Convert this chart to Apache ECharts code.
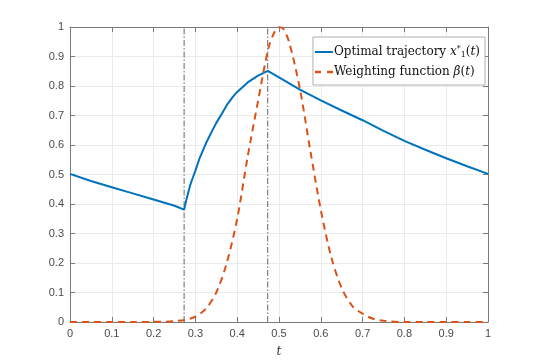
<!DOCTYPE html>
<html>
<head>
<meta charset="utf-8">
<script src="https://cdn.jsdelivr.net/npm/echarts@6/dist/echarts.min.js"></script>
<style>
  html, body { margin: 0; padding: 0; background: #fff; }
  #chart { width: 540px; height: 363px; }
</style>
</head>
<body>
<div id="chart"></div>
<script>
// trajectory x1*(t)
const tTraj = [0, 0.05, 0.1, 0.15, 0.2, 0.25, 0.273, 0.278, 0.283, 0.288, 0.295, 0.3, 0.31, 0.325, 0.34, 0.35, 0.365, 0.375, 0.39, 0.4, 0.425, 0.45, 0.473, 0.5, 0.55, 0.6, 0.65, 0.7, 0.75, 0.8, 0.85, 0.9, 0.95, 1];
const vTraj = [0.502, 0.478, 0.457, 0.436, 0.415, 0.394, 0.381, 0.412, 0.44, 0.466, 0.494, 0.513, 0.555, 0.605, 0.648, 0.675, 0.71, 0.735, 0.764, 0.78, 0.812, 0.835, 0.851, 0.829, 0.788, 0.751, 0.717, 0.684, 0.648, 0.614, 0.584, 0.555, 0.528, 0.502];

// weighting function beta(t)
const tBeta = [0, 0.05, 0.1, 0.15, 0.2, 0.225, 0.25, 0.275, 0.3, 0.325, 0.35, 0.375, 0.4, 0.425, 0.45, 0.475, 0.49, 0.5, 0.51, 0.525, 0.55, 0.575, 0.6, 0.625, 0.65, 0.675, 0.7, 0.725, 0.75, 0.8, 0.85, 0.9, 0.95, 1];
const vBeta = [0, 0, 0, 0, 0.0005, 0.001, 0.003, 0.007, 0.018, 0.045, 0.1, 0.2, 0.35, 0.56, 0.75, 0.93, 0.985, 0.999, 0.995, 0.945, 0.79, 0.58, 0.38, 0.22, 0.115, 0.055, 0.028, 0.011, 0.004, 0, 0, 0, 0, 0];

// switching instants (dash-dot verticals)
const tSwitch = [0.273, 0.473];

const pairs = (xs, ys) => xs.map((x, i) => [x, ys[i]]);

const axisCol = '#7a7a7a';
const gridCol = '#ebebeb';
const lblFont = { color: '#4a4a4a', fontSize: 11, fontFamily: 'Liberation Sans, Arial, sans-serif' };

function baseAxis(pos, showLabels) {
    return {
        type: 'value', min: 0, max: 1, interval: 0.1, position: pos,
        axisLine: { show: true, onZero: false, lineStyle: { color: axisCol, width: 1 } },
        axisTick: { show: true, inside: true, length: 5, lineStyle: { color: axisCol } },
        axisLabel: Object.assign({ show: showLabels, margin: 6 }, lblFont),
        splitLine: { show: showLabels, lineStyle: { color: gridCol, width: 1 } },
    };
}

const xBottom = baseAxis('bottom', true);
xBottom.name = 't';
xBottom.nameLocation = 'middle';
xBottom.nameGap = 24;
xBottom.nameTextStyle = { fontFamily: 'DejaVu Serif, serif', fontStyle: 'italic', fontSize: 12, color: '#333' };
const xTop = baseAxis('top', false);
const yLeft = baseAxis('left', true);
const yRight = baseAxis('right', false);

const serifFam = 'DejaVu Serif, Liberation Serif, serif';

const vlineSeries = tSwitch.map((t, i) => ({
    name: 'switch' + i, type: 'line', data: [[t, 0], [t, 1]],
    showSymbol: false, symbol: 'none', silent: true, z: 1,
    lineStyle: { color: '#555', width: 0.9, type: [6, 2, 1.5, 2] },
}));

const option = {
    backgroundColor: '#fff',
    animation: false,
    grid: { left: 70, right: 52, top: 27, bottom: 40, containLabel: false },
    xAxis: [xBottom, xTop],
    yAxis: [yLeft, yRight],
    legend: {
        right: 55, top: 37, orient: 'vertical',
        backgroundColor: '#fff', borderColor: '#b0b0b0', borderWidth: 1, borderRadius: 0,
        padding: [8, 5, 7, 2], itemGap: 7, itemWidth: 18, itemHeight: 14,
        textStyle: {
            fontFamily: serifFam, fontSize: 12, color: '#111', padding: [0, 0, 0, -4],
            rich: {
                n: { fontFamily: serifFam, fontSize: 12, color: '#111' },
                m: { fontFamily: serifFam, fontSize: 12, fontStyle: 'italic', color: '#111' },
                sp: { fontFamily: serifFam, fontSize: 8, color: '#111', verticalAlign: 'top', padding: [0, 0, 6, 0] },
                sb: { fontFamily: serifFam, fontSize: 8, color: '#111', verticalAlign: 'bottom', padding: [5, 0, 0, 0] },
            }
        },
        formatter: (name) => name === 'traj'
            ? '{n|Optimal trajectory }{m|x}{sp|*}{sb|1}{n|(}{m|t}{n|)}'
            : '{n|Weighting function }{m|β}{n|(}{m|t}{n|)}',
        data: [
            { name: 'traj', icon: 'path://M0,0H18V2H0Z', itemStyle: { color: '#0072BD' } },
            { name: 'beta', icon: 'path://M0,0H5V2H0Z M10,0H15V2H10Z', itemStyle: { color: '#D95319' } },
        ],
    },
    series: vlineSeries.concat([
        {
            name: 'traj', type: 'line', data: pairs(tTraj, vTraj), showSymbol: false, symbol: 'none',
            lineStyle: { color: '#0072BD', width: 2 }, itemStyle: { color: '#0072BD' }, z: 3,
        },
        {
            name: 'beta', type: 'line', data: pairs(tBeta, vBeta), showSymbol: false, symbol: 'none', smooth: 0.3,
            lineStyle: { color: '#D95319', width: 2, type: [7, 5] }, itemStyle: { color: '#D95319' }, z: 4,
        },
    ]),
};

const chart = echarts.init(document.getElementById('chart'));
chart.setOption(option);
</script>
</body>
</html>
